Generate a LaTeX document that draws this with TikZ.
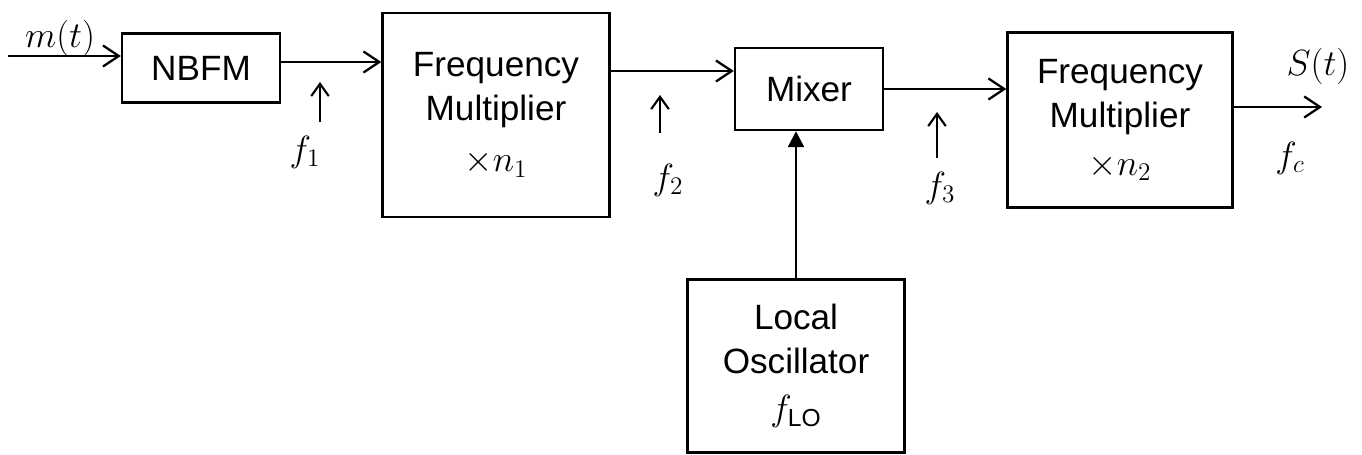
\documentclass[tikz,border=0pt]{standalone}
\usepackage{fontspec}
\setmainfont{Liberation Sans}
\usetikzlibrary{arrows.meta}
\tikzset{
  blk/.style={draw, line width=1.4pt, inner sep=0pt, align=center, font=\fontsize{20}{25}\selectfont},
  sig/.style={line width=1.4pt, -{Straight Barb[length=9pt,width=12pt,line width=1.3pt]}},
  tick/.style={line width=1.2pt, -{Straight Barb[length=7pt,width=10pt,line width=1.2pt]}},
  lbl/.style={font=\fontsize{22}{26}\selectfont},
}
\begin{document}
\begin{tikzpicture}[x=0.02cm,y=-0.02cm]
\useasboundingbox (0,0) rectangle (1362,454);
% blocks
\node[blk, minimum width=158*0.02cm, minimum height=69*0.02cm] (nbfm) at (201,68) {NBFM};
\node[blk, minimum width=227*0.02cm, minimum height=204*0.02cm] (fm1) at (496,115) {Frequency\\Multiplier\\[4pt]$\times n_1$};
\node[blk, minimum width=148*0.02cm, minimum height=82*0.02cm] (mix) at (809,89) {Mixer};
\node[blk, minimum width=225*0.02cm, minimum height=175*0.02cm] (fm2) at (1120,120) {Frequency\\Multiplier\\[2pt]$\times n_2$};
\node[blk, minimum width=217*0.02cm, minimum height=173*0.02cm] (lo) at (796,366) {Local\\Oscillator\\[2pt]$f_{\mathrm{LO}}$};
% coordinates
\coordinate (in) at (8,56);
\coordinate (out) at (1322,107);
% main path
\draw[sig] (in) -- (nbfm.west |- in);
\draw[sig] (nbfm.east |- 0,62) -- (fm1.west |- 0,62);
\draw[sig] (fm1.east |- 0,71) -- (mix.west |- 0,71);
\draw[sig] (mix.east |- 0,89) -- (fm2.west |- 0,89);
\draw[sig] (fm2.east |- out) -- (out);
\draw[line width=1.4pt, -{Triangle[length=9pt,width=9pt]}] (lo.north) -- (lo.north |- mix.south);
% labels
\node[lbl] (mt) at (60,38) {$m(t)$};
\node[lbl] (st) at (1318,66) {$S(t)$};
\node[lbl] (fc) at (1290,158) {$f_c$};
% frequency markers
\coordinate (a1) at (320,122);
\coordinate (b1) at (320,82);
\draw[tick] (a1) -- (b1);
\node[lbl] (f1) at (305,152) {$f_1$};
\coordinate (a2) at (660,133);
\coordinate (b2) at (660,95);
\draw[tick] (a2) -- (b2);
\node[lbl] (f2) at (668,180) {$f_2$};
\coordinate (a3) at (937,158);
\coordinate (b3) at (937,112);
\draw[tick] (a3) -- (b3);
\node[lbl] (f3) at (940,188) {$f_3$};
\end{tikzpicture}
\end{document}
